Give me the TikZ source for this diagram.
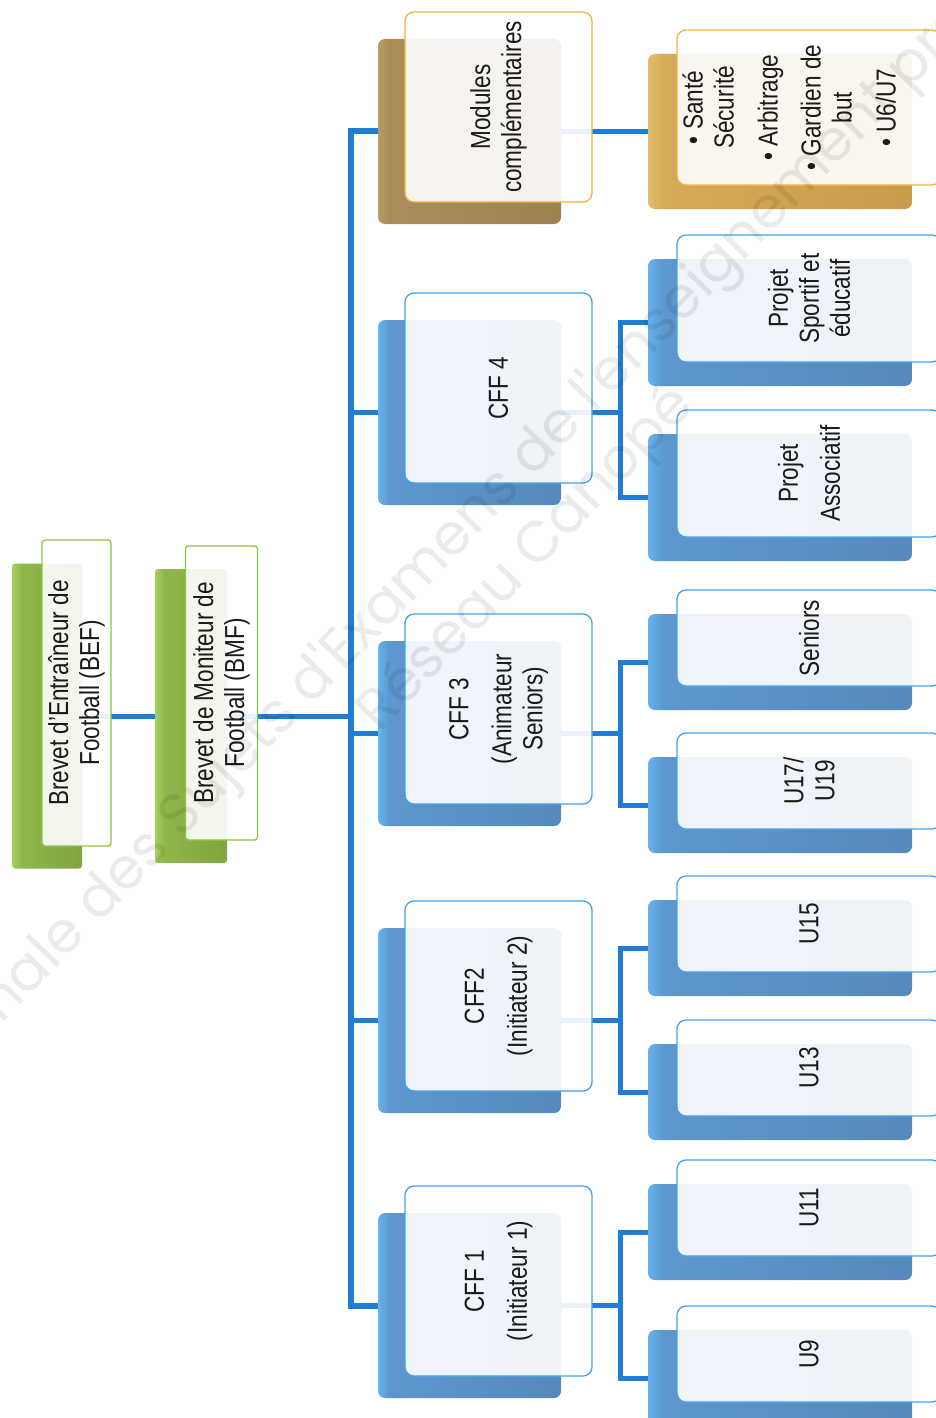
\documentclass[tikz,border=0pt]{standalone}
\usepackage{fontspec}
\setmainfont{Liberation Sans}[FakeStretch=0.82]
\newfontfamily\wmfont{Poppins}
\definecolor{linkblue}{HTML}{1F7DD6}
\definecolor{blueL}{HTML}{66B1EE}
\definecolor{blueM}{HTML}{5C97CD}
\definecolor{blueD}{HTML}{5689BC}
\definecolor{blueB}{HTML}{45A2EE}
\definecolor{greenL}{HTML}{A6CE5E}
\definecolor{greenM}{HTML}{90B64B}
\definecolor{greenD}{HTML}{82A440}
\definecolor{greenB}{HTML}{8CC63C}
\definecolor{brownL}{HTML}{B89C68}
\definecolor{brownM}{HTML}{AA8D59}
\definecolor{brownD}{HTML}{9E8150}
\definecolor{goldL}{HTML}{E4BD69}
\definecolor{goldM}{HTML}{D5A957}
\definecolor{goldD}{HTML}{C89C4C}
\definecolor{goldB}{HTML}{EDB43E}
\definecolor{txt}{HTML}{1A1A1A}
\pgfdeclarehorizontalshading{blueshade}{100bp}{color(0bp)=(blueL); color(25bp)=(blueL); color(28bp)=(blueM); color(75bp)=(blueD); color(100bp)=(blueD)}
\pgfdeclarehorizontalshading{greenshade}{100bp}{color(0bp)=(greenL); color(25bp)=(greenL); color(32bp)=(greenM); color(75bp)=(greenD); color(100bp)=(greenD)}
\pgfdeclarehorizontalshading{brownshade}{100bp}{color(0bp)=(brownL); color(25bp)=(brownL); color(28bp)=(brownM); color(75bp)=(brownD); color(100bp)=(brownD)}
\pgfdeclarehorizontalshading{goldshade}{100bp}{color(0bp)=(goldL); color(25bp)=(goldL); color(28bp)=(goldM); color(75bp)=(goldD); color(100bp)=(goldD)}
\pgfdeclarelayer{paper}
\pgfdeclarelayer{lines}
\pgfsetlayers{paper,lines,main}
\tikzset{
  box/.style={rectangle, inner sep=0pt, outer sep=0pt},
  sz/.style 2 args={minimum width=#1, minimum height=#2},
  fsz/.style 2 args={minimum width=#2, minimum height=#1},
  bshad/.style={box, rounded corners=7pt, shading=blueshade},
  gshad/.style={box, rounded corners=3pt, shading=greenshade},
  mshad/.style={box, rounded corners=7pt, shading=brownshade},
  oshad/.style={box, rounded corners=7pt, shading=goldshade},
  front/.style={box, rounded corners=9pt, fill=white, fill opacity=0.9, text opacity=1,
    line width=1.3pt, rotate=90, align=center, text=txt,
    font=\fontsize{27.5}{31}\selectfont},
  bfront/.style={front, draw=blueB},
  gfront/.style={front, draw=greenB, rounded corners=3pt},
  ofront/.style={front, draw=goldB},
  conn/.style={draw=linkblue, line width=5pt},
  trunkline/.style={draw=linkblue, line width=6pt},
  wm/.style={font=\wmfont\fontsize{57}{68}\selectfont, text=black, text opacity=0.08, inner sep=0pt}
}
\begin{document}
\begin{tikzpicture}[x=1pt,y=-1pt]
\useasboundingbox (0,0) rectangle (936,1418);
\clip (0,0) rectangle (936,1418);
\begin{pgfonlayer}{paper}
\fill[white] (0,0) rectangle (936,1418);
\end{pgfonlayer}

% coordinates for trunk and brackets
\coordinate (tr) at (351,0);
\coordinate (br) at (620,0);

% shadow (back) boxes
\node[gshad, sz={70}{305}] (sBEF) at (47,716) {};
\node[gshad, sz={72}{294}] (sBMF) at (191,716) {};

\node[mshad, sz={183}{185}] (sMod) at (469.5,131.5) {};
\node[bshad, sz={183}{185}] (sC4) at (469.5,412.5) {};
\node[bshad, sz={183}{185}] (sC3) at (469.5,733.5) {};
\node[bshad, sz={183}{185}] (sC2) at (469.5,1020.5) {};
\node[bshad, sz={183}{185}] (sC1) at (469.5,1305.5) {};

\node[oshad, sz={264}{155}] (sSan) at (780,131.5) {};
\node[bshad, sz={264}{127}] (sPS) at (780,322.5) {};
\node[bshad, sz={264}{127}] (sPA) at (780,497.5) {};
\node[bshad, sz={264}{96}] (sSen) at (780,662) {};
\node[bshad, sz={264}{96}] (sU17) at (780,805) {};
\node[bshad, sz={264}{96}] (sU15) at (780,948) {};
\node[bshad, sz={264}{96}] (sU13) at (780,1092) {};
\node[bshad, sz={264}{96}] (sU11) at (780,1232) {};
\node[bshad, sz={264}{96}] (sU9) at (780,1378) {};

% front boxes with text
\node[gfront, fsz={69}{306}] (fBEF) at (76.5,693) {Brevet d'Entraîneur de\\Football (BEF)};
\node[gfront, fsz={72}{294}] (fBMF) at (221.5,693) {Brevet de Moniteur de\\Football (BMF)};

\node[ofront, fsz={187}{190}] (fMod) at (498.5,107) {Modules\\complémentaires};
\node[bfront, fsz={187}{190}] (fC4) at (498.5,388) {CFF 4};
\node[bfront, fsz={187}{190}] (fC3) at (498.5,709) {CFF 3\\[12pt](Animateur\\Seniors)};
\node[bfront, fsz={187}{190}] (fC2) at (498.5,996) {CFF2\\[12pt](Initiateur 2)};
\node[bfront, fsz={187}{190}] (fC1) at (498.5,1281) {CFF 1\\[12pt](Initiateur 1)};

\node[ofront, fsz={264}{155}] (fSan) at (809,107.5) {• Santé\\Sécurité\\[13pt]• Arbitrage\\[12pt]• Gardien de\\but\\[13pt]• U6/U7\\[9pt]\mbox{}};
\node[bfront, fsz={264}{127}] (fPS) at (809,298.5) {Projet\\Sportif et\\éducatif};
\node[bfront, fsz={264}{127}] (fPA) at (809,473.5) {Projet\\[11pt]Associatif};
\node[bfront, fsz={264}{96}] (fSen) at (809,638) {Seniors};
\node[bfront, fsz={264}{96}] (fU17) at (809,781) {U17/\\U19};
\node[bfront, fsz={264}{96}] (fU15) at (809,924) {U15};
\node[bfront, fsz={264}{96}] (fU13) at (809,1068) {U13};
\node[bfront, fsz={264}{96}] (fU11) at (809,1208) {U11};
\node[bfront, fsz={264}{96}] (fU9) at (809,1354) {U9};

% connectors (beneath the boxes)
\begin{pgfonlayer}{lines}
\draw[conn] (sBEF.center) -- (sBMF.center);
\draw[conn] (sBMF.center) -- (sBMF.center -| tr);
\draw[trunkline] (sMod.center) -| (sC1.center -| tr) -- (sC1.center);
\draw[conn] (sC4.center -| tr) -- (sC4.center);
\draw[conn] (sC3.center -| tr) -- (sC3.center);
\draw[conn] (sC2.center -| tr) -- (sC2.center);
\draw[conn] (sMod.center) -- (sSan.center);
\draw[conn] (sC4.center) -- (sC4.center -| br);
\draw[conn] (sPS.center) -| (sPA.center -| br) -- (sPA.center);
\draw[conn] (sC3.center) -- (sC3.center -| br);
\draw[conn] (sSen.center) -| (sU17.center -| br) -- (sU17.center);
\draw[conn] (sC2.center) -- (sC2.center -| br);
\draw[conn] (sU15.center) -| (sU13.center -| br) -- (sU13.center);
\draw[conn] (sC1.center) -- (sC1.center -| br);
\draw[conn] (sU11.center) -| (sU9.center -| br) -- (sU9.center);
\end{pgfonlayer}

% watermark
\node[wm, rotate=45.8] (wm1) at (472,519) {Base Nationale des Sujets d'Examens de l'enseignement professionnel};
\node[wm, rotate=45.8] (wm2) at (527,560) {Réseau Canopé};
\end{tikzpicture}
\end{document}
